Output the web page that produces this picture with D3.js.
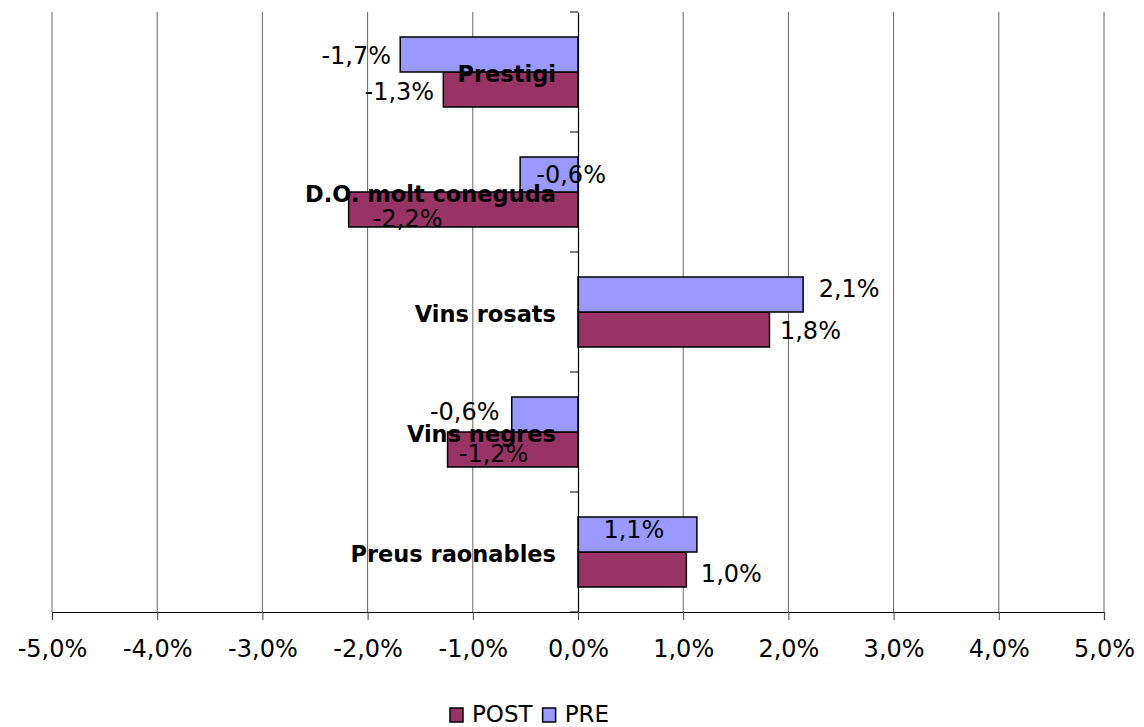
<!DOCTYPE html>
<html>
<head>
<meta charset="utf-8">
<script src="https://cdn.jsdelivr.net/npm/d3@7"></script>
<style>
  body { margin: 0; background: #fff; }
  svg { display: block; font-family: "DejaVu Sans", Verdana, sans-serif; }
</style>
</head>
<body>
<div id="chart"></div>
<script>
var categories = ['Prestigi', 'D.O. molt coneguda', 'Vins rosats', 'Vins negres', 'Preus raonables'];
var preValues  = [-1.69, -0.55, 2.14, -0.63, 1.13];
var postValues = [-1.28, -2.18, 1.82, -1.24, 1.03];
var xTicks = [-5, -4, -3, -2, -1, 0, 1, 2, 3, 4, 5];

// hand placed data labels (offset of label centre from bar end / bar centre, px)
var preLabelDx  = [-44, 51, 46, -47, -63];
var preLabelDy  = [1.5, 0.5, -5.5, -2.5, -4.5];
var postLabelDx = [-44, 59, 41, 46, 45];
var postLabelDy = [2.5, 9.5, 1.5, 4.5, 4.5];

var width = 1144, height = 727;
var margin = { top: 12, right: 40, bottom: 115, left: 52 };

var svg = d3.select('#chart').append('svg')
  .attr('width', width)
  .attr('height', height);

var x = d3.scaleLinear().domain([-5, 5]).range([margin.left, 1104]);
var y = d3.scaleBand().domain(categories).range([margin.top, height - margin.bottom]);
var sub = d3.scaleBand().domain(['PRE', 'POST']).range([25, 95]);

var fmt = function(v) {
  return d3.format('.1f')(v).replace('.', ',').replace('\u2212', '-') + '%';
};

// vertical gridlines
svg.append('g').selectAll('line')
  .data(xTicks.filter(function(d) { return d !== 0; }))
  .enter().append('line')
  .attr('x1', function(d) { return x(d); })
  .attr('x2', function(d) { return x(d); })
  .attr('y1', margin.top)
  .attr('y2', y.range()[1])
  .attr('stroke', '#666')
  .attr('stroke-width', 1);

// bottom axis
var xAxis = d3.axisBottom(x)
  .tickValues(xTicks)
  .tickSize(8)
  .tickFormat(fmt);

var gx = svg.append('g')
  .attr('transform', 'translate(0,' + y.range()[1] + ')')
  .call(xAxis);
gx.select('.domain').attr('stroke', '#000').attr('stroke-width', 1.2);
gx.selectAll('.tick line').attr('stroke', '#444');
gx.selectAll('.tick text')
  .attr('y', 37)
  .attr('dy', '0.35em')
  .style('font-size', '24px')
  .style('font-family', '"DejaVu Sans", Verdana, sans-serif')
  .attr('fill', '#000');

var series = [
  { key: 'POST', values: postValues, color: '#993366', dx: postLabelDx, dy: postLabelDy },
  { key: 'PRE',  values: preValues,  color: '#9999FF', dx: preLabelDx,  dy: preLabelDy }
];

// bars
series.forEach(function(s) {
  svg.append('g').selectAll('rect')
    .data(s.values)
    .enter().append('rect')
    .attr('x', function(d) { return Math.min(x(0), x(d)); })
    .attr('width', function(d) { return Math.abs(x(d) - x(0)); })
    .attr('y', function(d, i) { return y(categories[i]) + sub(s.key); })
    .attr('height', sub.bandwidth())
    .attr('fill', s.color)
    .attr('stroke', '#000')
    .attr('stroke-width', 1.5);
});

// zero axis with category ticks
var yAxis = d3.axisLeft(y).tickSize(0).tickFormat('');
var gy = svg.append('g')
  .attr('transform', 'translate(' + x(0) + ',0)')
  .call(yAxis);
gy.select('.domain').attr('stroke', '#000').attr('stroke-width', 1.2);
gy.append('g').selectAll('line')
  .data(categories.concat(['end']))
  .enter().append('line')
  .attr('x1', -8).attr('x2', 0)
  .attr('y1', function(d, i) { return margin.top + i * y.step(); })
  .attr('y2', function(d, i) { return margin.top + i * y.step(); })
  .attr('stroke', '#000');

// category labels
svg.append('g').selectAll('text')
  .data(categories)
  .enter().append('text')
  .attr('x', x(0) - 22)
  .attr('y', function(d) { return y(d) + y.bandwidth() / 2 + 2; })
  .attr('text-anchor', 'end')
  .attr('dominant-baseline', 'central')
  .style('font-size', '22.5px')
  .style('font-weight', 'bold')
  .text(function(d) { return d; });

// data labels
series.forEach(function(s) {
  svg.append('g').selectAll('text')
    .data(s.values)
    .enter().append('text')
    .attr('x', function(d, i) { return x(d) + s.dx[i]; })
    .attr('y', function(d, i) { return y(categories[i]) + sub(s.key) + sub.bandwidth() / 2 + s.dy[i]; })
    .attr('text-anchor', 'middle')
    .attr('dominant-baseline', 'central')
    .style('font-size', '24px')
    .text(function(d) { return fmt(d); });
});

// legend
var legend = svg.append('g').attr('transform', 'translate(450,714)');
var lx = 0;
series.forEach(function(s) {
  var item = legend.append('g').attr('transform', 'translate(' + lx + ',0)');
  item.append('rect')
    .attr('x', 0).attr('y', -6)
    .attr('width', 13).attr('height', 14)
    .attr('fill', s.color)
    .attr('stroke', '#000')
    .attr('stroke-width', 1.5);
  var t = item.append('text')
    .attr('x', 22)
    .attr('y', 0)
    .attr('dominant-baseline', 'central')
    .style('font-size', '23px')
    .text(s.key);
  lx += 22 + t.node().getComputedTextLength() + 10;
});
</script>
</body>
</html>
